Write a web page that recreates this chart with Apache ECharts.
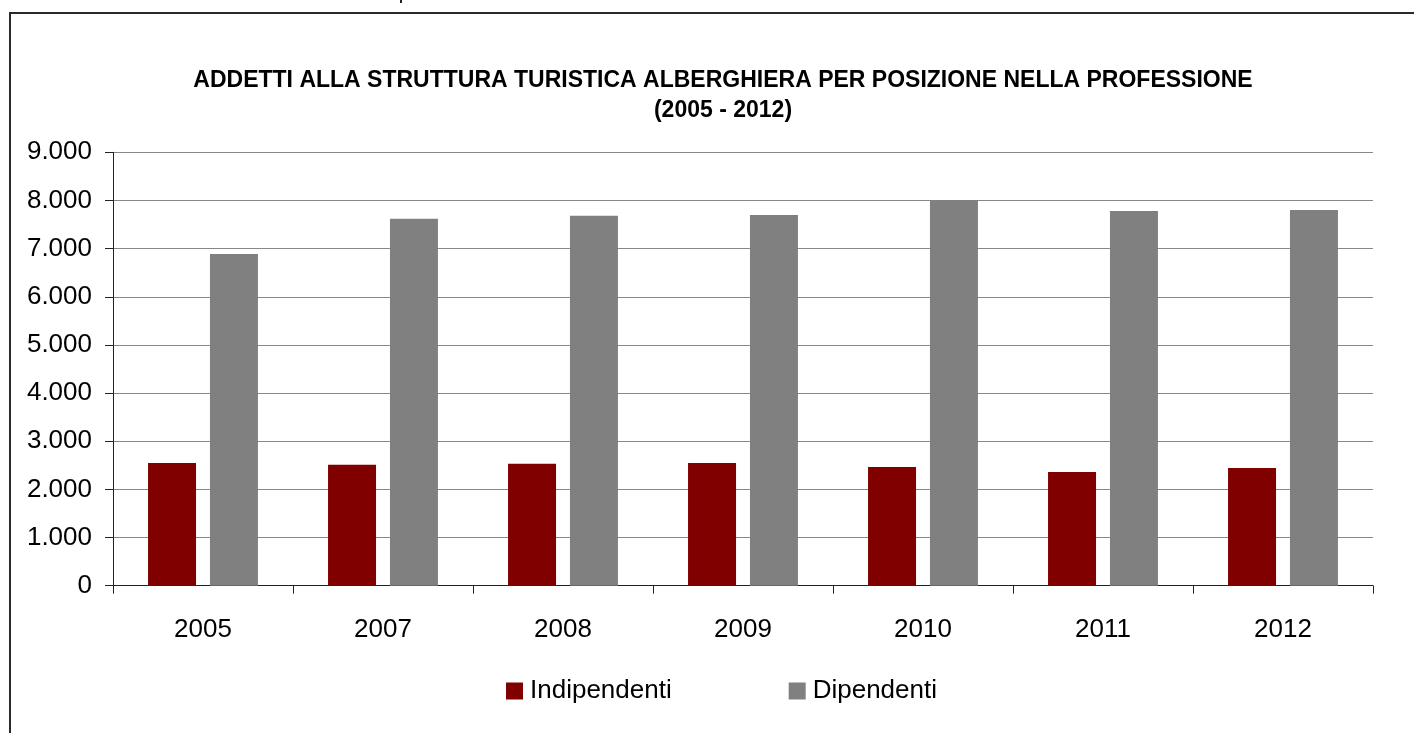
<!DOCTYPE html>
<html>
<head>
<meta charset="utf-8">
<script src="https://cdn.jsdelivr.net/npm/echarts@6/dist/echarts.min.js"></script>
<style>
html,body{margin:0;padding:0;background:#fff;}
#chart{width:1414px;height:733px;}
</style>
</head>
<body>
<div id="chart"></div>
<script>
const categories = ['2005','2007','2008','2009','2010','2011','2012'];
const indipendenti = [2550, 2510, 2530, 2550, 2465, 2360, 2445];
const dipendenti = [6890, 7620, 7680, 7700, 8005, 7780, 7800];
const seriesNames = ['Indipendenti', 'Dipendenti'];
const titleLines = ['ADDETTI ALLA STRUTTURA TURISTICA ALBERGHIERA PER POSIZIONE NELLA PROFESSIONE', '(2005 - 2012)'];

const chart = echarts.init(document.getElementById('chart'), null, {renderer: 'canvas'});
const fmt = v => String(v).replace(/\B(?=(\d{3})+(?!\d))/g, '.');
const font = '"Liberation Sans", Arial, sans-serif';

chart.setOption({
  animation: false,
  backgroundColor: '#ffffff',
  title: {
    text: titleLines.join('\n'),
    left: 718, textAlign: 'center', top: 61,
    textStyle: {fontFamily: font, fontWeight: 'bold', fontSize: 23, lineHeight: 30, color: '#000'}
  },
  graphic: [
    {type: 'rect', shape: {x: 10, y: 13, width: 1420, height: 740}, style: {fill: 'none', stroke: '#2a2a2a', lineWidth: 2}},
    {type: 'rect', shape: {x: 400, y: 0, width: 2, height: 3}, style: {fill: '#222'}}
  ],
  legend: {
    data: seriesNames, left: 501, top: 673,
    itemWidth: 17, itemHeight: 17, itemGap: 117,
    icon: 'rect',
    textStyle: {fontFamily: font, fontSize: 26, color: '#000', padding: [0,0,0,2]}
  },
  grid: {left: 113, right: 41, top: 152.3, bottom: 147.3, containLabel: false},
  xAxis: {
    type: 'category', data: categories,
    axisLine: {lineStyle: {color: '#222', width: 1}},
    axisTick: {show: true, length: 8, lineStyle: {color: '#222'}},
    axisLabel: {fontFamily: font, fontSize: 26, color: '#000', margin: 31}
  },
  yAxis: {
    type: 'value', min: 0, max: 9000, interval: 1000,
    axisLine: {show: true, lineStyle: {color: '#222'}},
    axisTick: {show: true, length: 8, lineStyle: {color: '#222'}},
    splitLine: {lineStyle: {color: '#888', width: 1}},
    axisLabel: {fontFamily: font, fontSize: 26, color: '#000', margin: 21, formatter: fmt}
  },
  series: [
    {name: seriesNames[0], type: 'bar', data: indipendenti, barWidth: 48, barGap: '29%', itemStyle: {color: '#800000'}},
    {name: seriesNames[1], type: 'bar', data: dipendenti, barWidth: 48, itemStyle: {color: '#808080'}}
  ]
});
</script>
</body>
</html>
